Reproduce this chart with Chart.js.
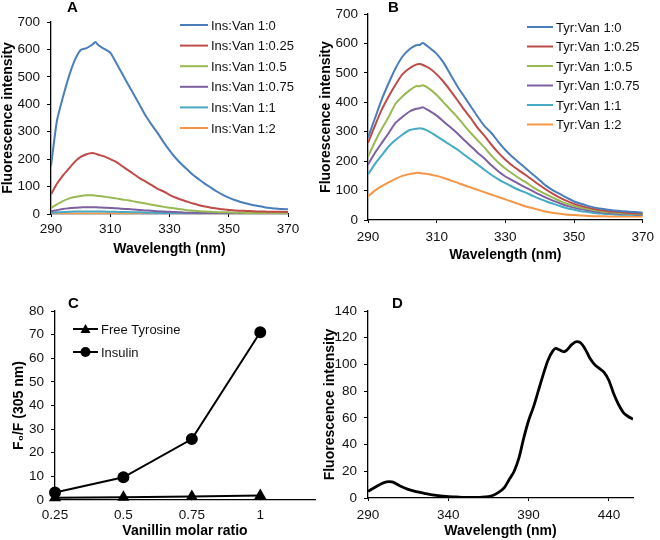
<!DOCTYPE html>
<html>
<head>
<meta charset="utf-8">
<script src="https://cdn.jsdelivr.net/npm/chart.js@4.4.0/dist/chart.umd.min.js"></script>
<style>
  body { margin: 0; background: #fff; }
  #wrap { position: relative; width: 660px; height: 540px; overflow: hidden; background: #fff; }
  .panel { position: absolute; }
  .panel canvas { display: block; }
</style>
</head>
<body>
<div id="wrap">
  <div class="panel" style="left:0;top:0"><canvas id="chartA" width="330" height="262"></canvas></div>
  <div class="panel" style="left:312px;top:0"><canvas id="chartB" width="348" height="266"></canvas></div>
  <div class="panel" style="left:0;top:270px"><canvas id="chartC" width="330" height="270"></canvas></div>
  <div class="panel" style="left:312px;top:270px"><canvas id="chartD" width="348" height="270"></canvas></div>
</div>
<script>
// ---- data ----
const wavelengths = [290, 292, 294, 296, 298, 300, 302, 304, 305, 306, 308, 310, 312, 314, 316, 318, 320,
  322, 324, 326, 328, 330, 332, 334, 336, 338, 340, 342, 344, 346, 348, 350, 352, 354, 356, 358, 360,
  362, 364, 366, 368, 370];

// panel A: insulin + vanillin
const insLabels = ['Ins:Van 1:0', 'Ins:Van 1:0.25', 'Ins:Van 1:0.5', 'Ins:Van 1:0.75', 'Ins:Van 1:1', 'Ins:Van 1:2'];
const ins_1_0 = [175, 340, 425, 500, 560, 598, 605, 618, 627, 615, 602, 588, 551, 512, 473, 435, 396,
  357, 325, 295, 262, 232, 205, 182, 162, 142, 126, 110, 96, 82, 70, 60, 51, 44, 38, 33, 29,
  25, 22, 20, 18, 17];
const ins_1_025 = [72, 110, 140, 165, 190, 208, 218, 222, 220, 216, 210, 200, 190, 175, 160, 145, 130,
  118, 105, 92, 82, 70, 60, 52, 45, 38, 32, 27, 23, 20, 17, 15, 13, 12, 11, 10, 9,
  9, 8, 8, 8, 7];
const ins_1_05 = [22, 35, 47, 56, 62, 66, 68, 68, 67, 66, 63, 60, 57, 53, 50, 46, 42,
  38, 34, 30, 26, 23, 20, 17, 14, 12, 10, 9, 8, 7, 6, 6, 5, 5, 4, 4, 4,
  3, 3, 3, 3, 3];
const ins_1_075 = [10, 14, 18, 21, 23, 24, 25, 25, 25, 24, 23, 22, 21, 19, 18, 16, 15,
  13, 12, 10, 9, 8, 7, 6, 5, 5, 4, 4, 3, 3, 3, 3, 2, 2, 2, 2, 2,
  2, 2, 2, 2, 2];
const ins_1_1 = [4, 6, 7, 8, 9, 9, 9, 9, 9, 9, 9, 8, 8, 7, 7, 6, 6,
  5, 5, 4, 4, 3, 3, 3, 2, 2, 2, 2, 2, 2, 2, 1, 1, 1, 1, 1, 1,
  1, 1, 1, 1, 1];
const ins_1_2 = [1, 1.5, 2, 2, 2, 2, 2, 2, 2, 2, 2, 2, 2, 2, 2, 2, 1.5,
  1.5, 1.5, 1, 1, 1, 1, 1, 1, 1, 1, 1, 1, 1, 1, 1, 1, 1, 1, 1, 1,
  1, 1, 1, 1, 1];

// panel B: free tyrosine + vanillin
const tyrLabels = ['Tyr:Van 1:0', 'Tyr:Van 1:0.25', 'Tyr:Van 1:0.5', 'Tyr:Van 1:0.75', 'Tyr:Van 1:1', 'Tyr:Van 1:2'];
const tyr_1_0 = [280, 345, 410, 465, 515, 555, 580, 594, 595, 602, 585, 565, 535, 495, 455, 420, 385,
  350, 318, 295, 265, 238, 215, 195, 175, 155, 135, 115, 100, 88, 75, 63, 55, 48, 42, 38, 35,
  32, 30, 28, 27, 25];
const tyr_1_025 = [262, 320, 375, 420, 460, 495, 515, 528, 530, 527, 515, 495, 470, 440, 408, 375, 345,
  312, 285, 255, 228, 205, 185, 168, 152, 135, 118, 102, 88, 75, 64, 55, 48, 42, 37, 33, 30,
  28, 26, 24, 23, 22];
const tyr_1_05 = [215, 265, 310, 350, 395, 420, 440, 455, 455, 458, 445, 425, 400, 375, 350, 322, 295,
  270, 245, 218, 195, 175, 158, 142, 128, 112, 98, 86, 75, 64, 55, 48, 42, 37, 33, 29, 27,
  25, 23, 22, 21, 20];
const tyr_1_075 = [188, 228, 262, 295, 330, 350, 368, 378, 380, 383, 370, 355, 335, 315, 295, 272, 250,
  228, 208, 185, 165, 148, 135, 122, 110, 98, 86, 75, 65, 56, 48, 42, 37, 33, 29, 26, 24,
  22, 21, 20, 19, 18];
const tyr_1_1 = [155, 190, 220, 250, 272, 290, 305, 310, 312, 310, 300, 285, 270, 255, 240, 222, 205,
  188, 170, 153, 138, 125, 113, 102, 93, 82, 72, 63, 55, 47, 40, 35, 30, 27, 24, 22, 20,
  19, 18, 18, 17, 17];
const tyr_1_2 = [80, 100, 115, 128, 140, 150, 156, 160, 160, 158, 155, 150, 143, 135, 127, 118, 110,
  102, 94, 86, 78, 70, 62, 54, 46, 40, 34, 28, 24, 21, 18, 17, 15, 14, 13, 13, 12,
  12, 12, 12, 12, 12];

// panel C: F0/F at 305 nm
const molarRatios = [0.25, 0.5, 0.75, 1];
const freeTyrosine = [1.0, 1.2, 1.5, 1.9];
const insulin = [3.2, 9.6, 25.8, 71];

// panel D: vanillin emission
const vanTicks = [290, 340, 390, 440];
const vanWavelengths = [290, 295, 300, 303, 305, 310, 315, 320, 325, 330, 335, 340, 345, 350, 355, 360,
  365, 368, 371, 375, 378, 381, 384, 387, 390, 393, 396, 399, 402, 405, 407, 409, 412, 414, 417,
  420, 422, 425, 428, 431, 434, 437, 440, 443, 446, 449, 452, 455];
const vanIntensity = [5, 8.5, 11.5, 12.2, 12, 9, 6.5, 4.8, 3.5, 2.3, 1.5, 1.1, 0.8, 0.5, 0.4, 0.5,
  1, 2, 4, 8, 14, 20, 30, 45, 58, 68, 80, 92, 103, 110, 112, 111, 109.5, 111, 115,
  117, 116.5, 112, 105, 100, 97, 94, 88, 78, 70, 64, 61, 59];

const excelColors = ['#4a7ebb', '#be4b48', '#98b954', '#7d60a0', '#46aac5', '#f79646'];
const FONT = "'Liberation Sans', Arial, sans-serif";

Chart.defaults.font.family = FONT;
Chart.defaults.font.size = 13.5;
Chart.defaults.color = '#111';
Chart.defaults.animation = false;

// panel letter + legend drawn inside the plot, like the original figure
const panelDecor = {
  id: 'panelDecor',
  afterDraw(chart, args, opts) {
    const ctx = chart.ctx;
    ctx.save();
    ctx.fillStyle = '#000';
    ctx.font = 'bold 15px ' + FONT;
    ctx.textBaseline = 'middle';
    ctx.textAlign = 'left';
    ctx.fillText(opts.letter, opts.letterX, opts.letterY);

    const L = opts.legend;
    if (L) {
      ctx.font = '13px ' + FONT;
      chart.data.datasets.forEach((ds, i) => {
        const y = L.y + i * L.step;
        ctx.strokeStyle = ds.borderColor;
        ctx.lineWidth = ds.borderWidth;
        ctx.beginPath();
        ctx.moveTo(L.x, y);
        ctx.lineTo(L.x + L.len, y);
        ctx.stroke();
        const cx = L.x + L.len / 2;
        const r = ds.pointRadius || 0;
        ctx.fillStyle = ds.borderColor;
        if (ds.pointStyle === 'triangle' && r > 0) {
          ctx.beginPath();
          ctx.moveTo(cx, y - r);
          ctx.lineTo(cx + r, y + r * 0.8);
          ctx.lineTo(cx - r, y + r * 0.8);
          ctx.closePath();
          ctx.fill();
        } else if (r > 0) {
          ctx.beginPath();
          ctx.arc(cx, y, r, 0, Math.PI * 2);
          ctx.fill();
        }
        ctx.fillStyle = '#111';
        ctx.fillText(ds.label, L.x + L.len + L.gap, y + 1);
      });
    }
    ctx.restore();
  }
};

function yAxis(o) {
  return {
    type: 'linear',
    min: o.min,
    max: o.max,
    ticks: { stepSize: o.step, padding: o.tickPad, color: '#111' },
    grid: { drawOnChartArea: false, drawTicks: true, tickLength: 4, color: '#000' },
    border: { color: '#000', width: 1.3 },
    title: {
      display: true,
      text: o.title,
      color: '#000',
      font: { size: 14, weight: 'bold' },
      padding: { top: o.titlePad, bottom: 0 }
    },
    afterFit: (scale) => { scale.width = o.width; }
  };
}

function xAxis(o) {
  const axis = {
    type: 'linear',
    min: o.min,
    max: o.max,
    ticks: {
      stepSize: o.step,
      padding: o.tickPad,
      includeBounds: false,
      color: '#111',
      callback: (v) => String(v)
    },
    grid: { drawOnChartArea: false, drawTicks: true, tickLength: o.tickLength, color: '#000' },
    border: { color: '#000', width: 1.3 },
    title: {
      display: true,
      text: o.title,
      color: '#000',
      font: { size: 14, weight: 'bold' },
      padding: { top: 0, bottom: o.titlePad }
    },
    afterFit: (scale) => { scale.height = o.height; }
  };
  if (o.tickValues) {
    axis.afterBuildTicks = (scale) => { scale.ticks = o.tickValues.map(v => ({ value: v })); };
  }
  return axis;
}

function spectrumSets(labels, series) {
  return series.map((vals, i) => ({
    label: labels[i],
    data: vals.map((v, j) => ({ x: wavelengths[j], y: v })),
    borderColor: excelColors[i],
    borderWidth: 2,
    pointRadius: 0,
    tension: 0.2,
    fill: false
  }));
}

const noLegend = { legend: { display: false }, tooltip: { enabled: false } };

// A
new Chart(document.getElementById('chartA'), {
  type: 'line',
  data: { datasets: spectrumSets(insLabels, [ins_1_0, ins_1_025, ins_1_05, ins_1_075, ins_1_1, ins_1_2]) },
  options: {
    responsive: false,
    layout: { padding: { top: 22, right: 42, left: 0, bottom: 0 } },
    plugins: {
      ...noLegend,
      panelDecor: { letter: 'A', letterX: 67, letterY: 8, legend: { x: 180, y: 25, step: 20.6, len: 28, gap: 3 } }
    },
    scales: {
      x: xAxis({ min: 290, max: 370, step: 20, title: 'Wavelength (nm)', height: 48, tickPad: 4, tickLength: 3, titlePad: 4 }),
      y: yAxis({ min: 0, max: 700, step: 100, title: 'Fluorescence intensity', width: 51, tickPad: 7, titlePad: 0 })
    }
  },
  plugins: [panelDecor]
});

// B
new Chart(document.getElementById('chartB'), {
  type: 'line',
  data: { datasets: spectrumSets(tyrLabels, [tyr_1_0, tyr_1_025, tyr_1_05, tyr_1_075, tyr_1_1, tyr_1_2]) },
  options: {
    responsive: false,
    layout: { padding: { top: 13, right: 12, left: 0, bottom: 0 } },
    plugins: {
      ...noLegend,
      panelDecor: { letter: 'B', letterX: 76, letterY: 8, legend: { x: 215, y: 27, step: 19.5, len: 26, gap: 3 } }
    },
    scales: {
      x: xAxis({ min: 290, max: 370, step: 20, title: 'Wavelength (nm)', height: 46, tickPad: 6, tickLength: 3, titlePad: 2 }),
      y: yAxis({ min: 0, max: 700, step: 100, title: 'Fluorescence intensity', width: 56, tickPad: 6, titlePad: 6 })
    }
  },
  plugins: [panelDecor]
});

// C
new Chart(document.getElementById('chartC'), {
  type: 'line',
  data: {
    datasets: [
      {
        label: 'Free Tyrosine',
        data: molarRatios.map((r, i) => ({ x: r, y: freeTyrosine[i] })),
        borderColor: '#000',
        backgroundColor: '#000',
        borderWidth: 2,
        pointStyle: 'triangle',
        pointRadius: 5,
        tension: 0
      },
      {
        label: 'Insulin',
        data: molarRatios.map((r, i) => ({ x: r, y: insulin[i] })),
        borderColor: '#000',
        backgroundColor: '#000',
        borderWidth: 2,
        pointStyle: 'circle',
        pointRadius: 5,
        tension: 0
      }
    ]
  },
  options: {
    responsive: false,
    clip: false,
    layout: { padding: { top: 41, right: 15, left: 0, bottom: 0 } },
    plugins: {
      ...noLegend,
      panelDecor: { letter: 'C', letterX: 68, letterY: 34, legend: { x: 73, y: 59, step: 23, len: 25, gap: 3 } }
    },
    scales: {
      x: xAxis({ min: 0.25, max: 1.2, step: 0.25, title: 'Vanillin molar ratio', height: 40, tickPad: 7, tickLength: 0, titlePad: 0 }),
      y: yAxis({ min: 0, max: 80, step: 10, title: 'F\u2080/F (305 nm)', width: 55, tickPad: 7, titlePad: 11 })
    }
  },
  plugins: [panelDecor]
});

// D
new Chart(document.getElementById('chartD'), {
  type: 'line',
  data: {
    datasets: [{
      label: 'Vanillin',
      data: vanWavelengths.map((w, i) => ({ x: w, y: vanIntensity[i] })),
      borderColor: '#000',
      borderWidth: 2.8,
      pointRadius: 0,
      cubicInterpolationMode: 'monotone'
    }]
  },
  options: {
    responsive: false,
    layout: { padding: { top: 41, right: 27, left: 0, bottom: 0 } },
    plugins: {
      ...noLegend,
      panelDecor: { letter: 'D', letterX: 80, letterY: 34 }
    },
    scales: {
      x: xAxis({ min: 290, max: 455, step: 50, tickValues: vanTicks, title: 'Wavelength (nm)', height: 42, tickPad: 6, tickLength: 3, titlePad: 0 }),
      y: yAxis({ min: 0, max: 140, step: 20, title: 'Fluorescence intensity', width: 56, tickPad: 7, titlePad: 10 })
    }
  },
  plugins: [panelDecor]
});
</script>
</body>
</html>
